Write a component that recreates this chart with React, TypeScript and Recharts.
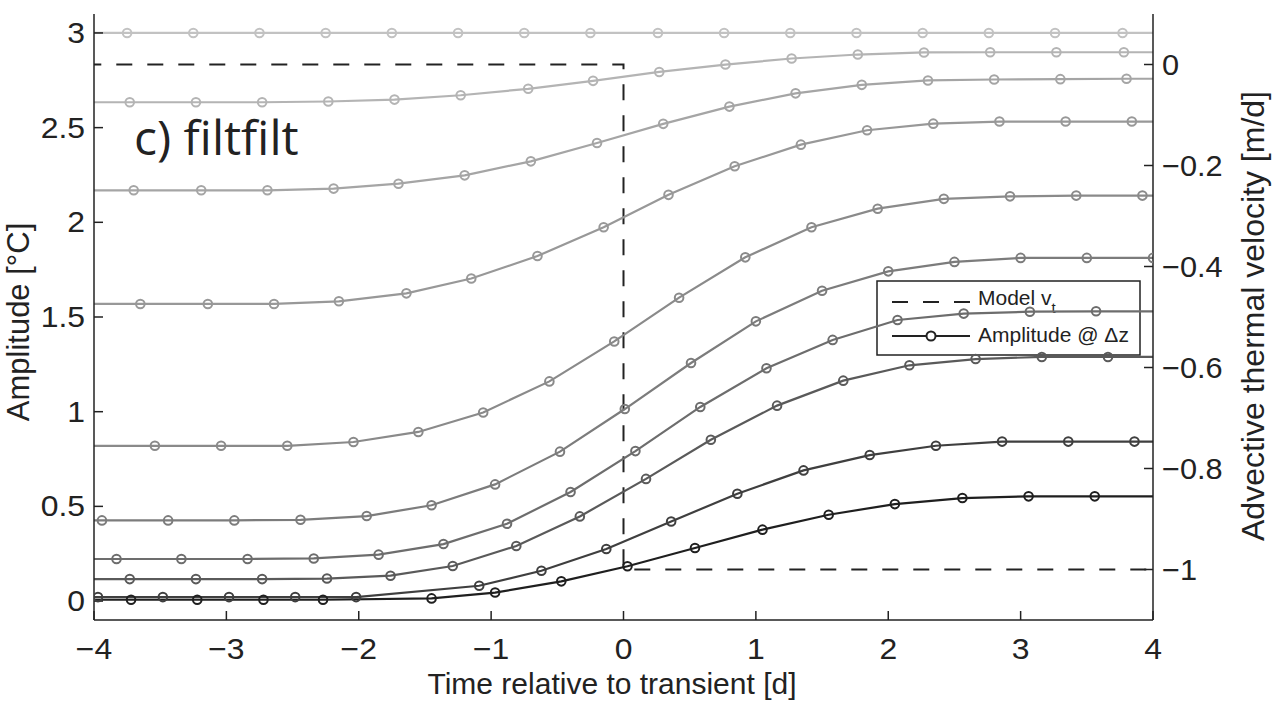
import React from 'react';
import { LineChart, Line, XAxis, YAxis, Customized } from 'recharts';

// marker times [d] and amplitudes [°C], shallowest sensor first
const t1 = [-4.25, -3.75, -3.25, -2.75, -2.25, -1.75, -1.25, -0.75, -0.25, 0.26, 0.76, 1.26, 1.76, 2.26, 2.76, 3.26, 3.77, 4.27];
const a1 = [3.0, 3.0, 3.0, 3.0, 3.0, 3.0, 3.0, 3.0, 3.0, 3.0, 3.0, 3.0, 3.0, 3.0, 3.0, 3.0, 3.0, 3.0];

const t2 = [-4.23, -3.73, -3.23, -2.73, -2.23, -1.73, -1.23, -0.72, -0.23, 0.27, 0.77, 1.27, 1.77, 2.27, 2.77, 3.27, 3.78, 4.28];
const a2 = [2.634, 2.634, 2.634, 2.634, 2.638, 2.648, 2.671, 2.705, 2.747, 2.794, 2.833, 2.865, 2.886, 2.897, 2.898, 2.898, 2.898, 2.898];

const t3 = [-4.2, -3.7, -3.19, -2.69, -2.19, -1.7, -1.2, -0.7, -0.2, 0.3, 0.8, 1.3, 1.8, 2.3, 2.8, 3.3, 3.8, 4.3];
const a3 = [2.169, 2.169, 2.169, 2.169, 2.178, 2.204, 2.248, 2.322, 2.419, 2.52, 2.611, 2.681, 2.726, 2.749, 2.754, 2.756, 2.758, 2.758];

const t4 = [-4.15, -3.65, -3.14, -2.64, -2.15, -1.64, -1.15, -0.65, -0.15, 0.34, 0.84, 1.34, 1.84, 2.34, 2.84, 3.34, 3.84, 4.34];
const a4 = [1.569, 1.569, 1.569, 1.569, 1.583, 1.625, 1.703, 1.822, 1.974, 2.145, 2.296, 2.41, 2.486, 2.521, 2.532, 2.532, 2.532, 2.532];

const t5 = [-4.04, -3.54, -3.04, -2.54, -2.04, -1.55, -1.06, -0.56, -0.07, 0.42, 0.92, 1.42, 1.92, 2.42, 2.92, 3.42, 3.92, 4.42];
const a5 = [0.82, 0.82, 0.82, 0.82, 0.84, 0.893, 0.996, 1.16, 1.371, 1.602, 1.815, 1.974, 2.072, 2.124, 2.137, 2.141, 2.141, 2.141];

const t6 = [-4.44, -3.94, -3.44, -2.94, -2.44, -1.94, -1.45, -0.97, -0.48, 0.01, 0.51, 1.0, 1.5, 2.0, 2.5, 3.0, 3.5, 4.0, 4.5];
const a6 = [0.426, 0.426, 0.426, 0.426, 0.429, 0.449, 0.506, 0.616, 0.789, 1.014, 1.257, 1.477, 1.639, 1.741, 1.791, 1.812, 1.812, 1.812, 1.812];

const t7 = [-4.33, -3.83, -3.34, -2.84, -2.34, -1.85, -1.36, -0.88, -0.4, 0.09, 0.58, 1.08, 1.58, 2.07, 2.57, 3.07, 3.57, 4.07];
const a7 = [0.222, 0.222, 0.222, 0.222, 0.225, 0.245, 0.301, 0.408, 0.576, 0.792, 1.025, 1.229, 1.379, 1.484, 1.518, 1.528, 1.53, 1.53];

const t8 = [-4.23, -3.73, -3.23, -2.73, -2.24, -1.76, -1.29, -0.81, -0.33, 0.17, 0.66, 1.16, 1.66, 2.16, 2.66, 3.16, 3.66, 4.16];
const a8 = [0.116, 0.116, 0.116, 0.116, 0.119, 0.134, 0.185, 0.291, 0.447, 0.645, 0.852, 1.032, 1.164, 1.245, 1.278, 1.289, 1.289, 1.289];

const t9 = [-4.47, -3.97, -3.48, -2.98, -2.48, -2.02, -1.09, -0.62, -0.13, 0.36, 0.86, 1.36, 1.86, 2.36, 2.86, 3.36, 3.86, 4.36];
const a9 = [0.021, 0.021, 0.021, 0.021, 0.021, 0.021, 0.081, 0.16, 0.275, 0.42, 0.567, 0.69, 0.771, 0.82, 0.842, 0.842, 0.842, 0.842];

const t10 = [-4.22, -3.72, -3.22, -2.72, -2.27, -1.45, -0.97, -0.47, 0.03, 0.54, 1.05, 1.55, 2.05, 2.56, 3.06, 3.56, 4.07];
const a10 = [0.007, 0.007, 0.007, 0.007, 0.007, 0.014, 0.045, 0.104, 0.184, 0.28, 0.377, 0.456, 0.512, 0.544, 0.553, 0.553, 0.553];

// model advective velocity step [m/d]
const modelT = [-4.3, 0, 0, 4.3];
const modelV = [0, 0, -1, -1];

const xTicks = [-4, -3, -2, -1, 0, 1, 2, 3, 4];
const ampTicks = [0, 0.5, 1, 1.5, 2, 2.5, 3];
const velTicks = [-1, -0.8, -0.6, -0.4, -0.2, 0];

const shades = ['#c2c2c2', '#b4b4b4', '#a5a5a5', '#989898', '#8a8a8a', '#7c7c7c', '#6d6d6d', '#5a5a5a', '#3f3f3f', '#1f1f1f'];

const series = [
  [t1, a1], [t2, a2], [t3, a3], [t4, a4], [t5, a5],
  [t6, a6], [t7, a7], [t8, a8], [t9, a9], [t10, a10],
].map(([t, a], i) => ({
  id: `amp${i + 1}`,
  color: shades[i],
  data: t.map((x, j) => ({ t: x, amp: a[j] })),
}));

const modelData = modelT.map((x, j) => ({ t: x, v: modelV[j] }));

const FONT = '"Liberation Sans", Arial, Helvetica, sans-serif';
const INK = '#222';
const fmt = (v: number) => String(v).replace('-', '\u2212');

const BottomTick = ({ x, y, payload }: any) => (
  <g transform={`translate(${x},${y + 30}) scale(1.1,1)`}>
    <text textAnchor="middle" fontSize={29} fontFamily={FONT} fill={INK}>{fmt(payload.value)}</text>
  </g>
);

const LeftTick = ({ x, y, payload }: any) => (
  <g transform={`translate(${x},${y + 10}) scale(1.1,1)`}>
    <text textAnchor="end" fontSize={29} fontFamily={FONT} fill={INK}>{fmt(payload.value)}</text>
  </g>
);

const RightTick = ({ x, y, payload }: any) => (
  <g transform={`translate(${x},${y + 10}) scale(1.06,1)`}>
    <text textAnchor="start" fontSize={29} fontFamily={FONT} fill={INK}>{fmt(payload.value)}</text>
  </g>
);

const NoTick = () => null;

const Overlay = () => (
  <g fontFamily={FONT} fill={INK}>
    <text x={134} y={155} fontSize={48} fontFamily='"Open Sans", sans-serif'>c) filtfilt</text>
    <text x={612} y={694} textAnchor="middle" fontSize={30}>Time relative to transient [d]</text>
    <text transform="translate(29,322) rotate(-90)" textAnchor="middle" fontSize={31}>Amplitude [°C]</text>
    <text transform="translate(1264,316) rotate(-90)" textAnchor="middle" fontSize={32}>Advective thermal velocity [m/d]</text>
    <rect x={877} y={281} width={263} height={74} fill="#fff" stroke={INK} strokeWidth={1.5} />
    <line x1={892} x2={970} y1={302} y2={302} stroke={INK} strokeWidth={2} strokeDasharray="16 15" />
    <text x={978} y={305} fontSize={21}>
      Model v<tspan fontSize={15} dy={8}>t</tspan>
    </text>
    <line x1={892} x2={970} y1={336} y2={336} stroke={INK} strokeWidth={2} />
    <circle cx={931} cy={336} r={4.5} fill="#fff" stroke={INK} strokeWidth={2} />
    <text x={978} y={342} fontSize={21}>Amplitude @ Δz</text>
  </g>
);

const axisStroke = { stroke: INK, strokeWidth: 1.5 };

export default function App() {
  return (
    <div style={{ position: 'absolute', left: 0, top: 0, background: '#fff' }}>
      <LineChart width={1274} height={703} margin={{ top: 14, right: 0, bottom: 0, left: 0 }}>
        <XAxis
          xAxisId="b"
          dataKey="t"
          type="number"
          domain={[-4, 4]}
          allowDataOverflow
          ticks={xTicks}
          interval={0}
          height={83}
          tickSize={-9}
          tickMargin={18}
          axisLine={axisStroke}
          tickLine={axisStroke}
          tick={<BottomTick />}
        />
        <XAxis
          xAxisId="top"
          orientation="top"
          dataKey="t"
          type="number"
          domain={[-4, 4]}
          allowDataOverflow
          ticks={xTicks}
          interval={0}
          height={0}
          tickSize={-9}
          axisLine={axisStroke}
          tickLine={axisStroke}
          tick={<NoTick />}
        />
        <YAxis
          yAxisId="amp"
          type="number"
          domain={[-0.1, 3.1]}
          allowDataOverflow
          ticks={ampTicks}
          interval={0}
          width={94}
          tickSize={-9}
          tickMargin={18}
          axisLine={axisStroke}
          tickLine={axisStroke}
          tick={<LeftTick />}
        />
        <YAxis
          yAxisId="vel"
          orientation="right"
          type="number"
          domain={[-1.1, 0.1]}
          allowDataOverflow
          ticks={velTicks}
          interval={0}
          width={121}
          tickSize={-9}
          tickMargin={18}
          axisLine={axisStroke}
          tickLine={axisStroke}
          tick={<RightTick />}
        />
        <Line
          xAxisId="b"
          yAxisId="vel"
          data={modelData}
          dataKey="v"
          type="linear"
          stroke={INK}
          strokeWidth={2}
          strokeDasharray="16 15"
          dot={false}
          isAnimationActive={false}
        />
        {series.map((s) => (
          <Line
            key={s.id}
            xAxisId="b"
            yAxisId="amp"
            data={s.data}
            dataKey="amp"
            type="linear"
            stroke={s.color}
            strokeWidth={2.2}
            dot={{ r: 4.3, fill: 'none', stroke: s.color, strokeWidth: 2 }}
            isAnimationActive={false}
          />
        ))}
        <Customized component={<Overlay />} />
      </LineChart>
    </div>
  );
}
